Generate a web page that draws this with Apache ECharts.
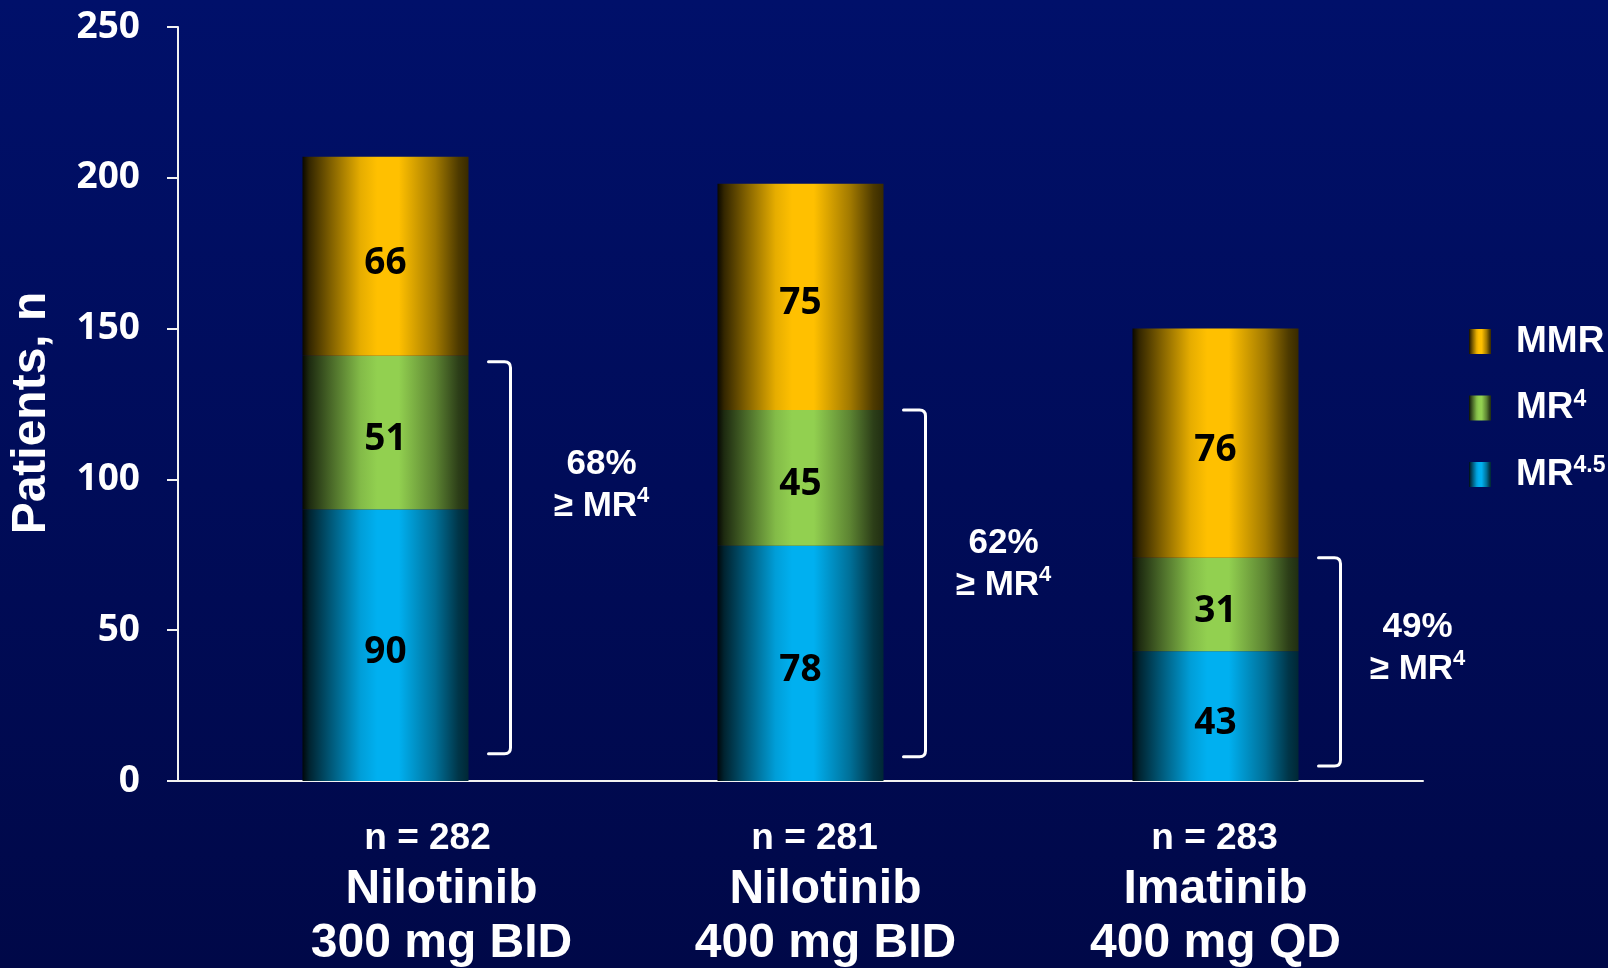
<!DOCTYPE html>
<html>
<head>
<meta charset="utf-8">
<title>Patients by molecular response</title>
<script src="https://cdn.jsdelivr.net/npm/echarts@6/dist/echarts.min.js"></script>
<style>
  html, body { margin: 0; padding: 0; background: #000c58; }
  #chart { width: 1608px; height: 968px; }
</style>
</head>
<body>
<div id="chart"></div>
<script>
// Treatment arms shown on the category axis
const arms = ['Nilotinib', 'Nilotinib', 'Imatinib'];
const doses = ['300 mg BID', '400 mg BID', '400 mg QD'];
const nPatients = [282, 281, 283];

// Patients by best response (stacked bottom to top)
const mr45 = [90, 78, 43];
const mr4 = [51, 45, 31];
const mmr = [66, 75, 76];

// Share of each arm reaching MR4 or deeper
const pctAtLeastMR4 = [68, 62, 49];

// Y axis scale
const yMin = 0;
const yMax = 250;
const yStep = 50;

// Annotation placement (bracket ends and note centre in patient units,
// horizontal nudges in pixels)
const bracketHeadDrop = [2, 0, 0];
const bracketFoot = [9, 8, 5];
const noteCentre = [98, 72, 44];
const noteShift = [91, 78, 77];
const countLabelShift = [42, 14, -1];
const armLabelShift = [56, 25, 0];

const SANS = '"Liberation Sans", Arial, sans-serif';
const NUM = '"Open Sans", "DejaVu Sans", sans-serif';

// Horizontal shading that gives each bar a rounded, cylindrical look
function cylinder(hex) {
  const r = parseInt(hex.slice(1, 3), 16);
  const g = parseInt(hex.slice(3, 5), 16);
  const b = parseInt(hex.slice(5, 7), 16);
  const stops = [
    [0, 0.04], [0.04, 0.2], [0.17, 0.5], [0.35, 0.9], [0.45, 1],
    [0.58, 1], [0.8, 0.63], [0.94, 0.3], [1, 0.22]
  ];
  return new echarts.graphic.LinearGradient(0, 0, 1, 0, stops.map(([o, f]) => ({
    offset: o,
    color: `rgb(${Math.round(r * f)},${Math.round(g * f)},${Math.round(b * f)})`
  })));
}

const categories = arms.map((a, i) => a + ' ' + doses[i]);

const valueLabel = {
  show: true,
  position: 'inside',
  offset: [0, 7],
  color: '#000',
  fontFamily: NUM,
  fontWeight: 'bold',
  fontSize: 37
};

function stackSeries(name, data, hex) {
  return {
    name: name,
    type: 'bar',
    stack: 'response',
    barWidth: '40%',
    data: data,
    itemStyle: { color: cylinder(hex) },
    label: valueLabel,
    emphasis: { disabled: true }
  };
}

// Rich-text styles for the category labels, one set per arm so each
// block can be nudged sideways
const armRich = {};
categories.forEach((c, i) => {
  armRich['n' + i] = {
    fontFamily: SANS, fontWeight: 'bold', fontSize: 37, color: '#fff', lineHeight: 48,
    padding: countLabelShift[i] >= 0 ? [0, 0, 0, countLabelShift[i] * 2] : [0, -countLabelShift[i] * 2, 0, 0]
  };
  armRich['d' + i] = {
    fontFamily: SANS, fontWeight: 'bold', fontSize: 48, color: '#fff', lineHeight: 54,
    padding: [0, 0, 0, armLabelShift[i] * 2]
  };
});

const bracketData = categories.map((c, i) => [
  i, mr45[i] + mr4[i] - bracketHeadDrop[i], bracketFoot[i], noteCentre[i]
]);

const noteRich = {
  p: { fontFamily: SANS, fontWeight: 'bold', fontSize: 35, fill: '#fff', lineHeight: 42 },
  s: { fontFamily: SANS, fontWeight: 'bold', fontSize: 22, fill: '#fff', lineHeight: 30, verticalAlign: 'top' }
};

const option = {
  backgroundColor: new echarts.graphic.LinearGradient(0, 0, 0, 1, [
    { offset: 0, color: '#00106a' },
    { offset: 1, color: '#000848' }
  ]),
  animation: false,
  grid: { left: 177, right: 185, top: 27, bottom: 185, containLabel: false },
  legend: {
    data: ['MMR', 'MR4', 'MR4.5'],
    orient: 'vertical',
    left: 1464,
    top: 318,
    icon: 'rect',
    itemWidth: 22,
    itemHeight: 25,
    itemGap: 28,
    selectedMode: false,
    formatter: function (name) {
      if (name === 'MMR') return '{b|MMR}';
      if (name === 'MR4') return '{b|MR}{s|4}';
      return '{b|MR}{s|4.5}';
    },
    textStyle: {
      color: '#fff',
      padding: [0, 0, 0, 20],
      rich: {
        b: { fontFamily: SANS, fontWeight: 'bold', fontSize: 37, color: '#fff', lineHeight: 40 },
        s: { fontFamily: SANS, fontWeight: 'bold', fontSize: 23, color: '#fff', lineHeight: 28, verticalAlign: 'top' }
      }
    }
  },
  xAxis: {
    type: 'category',
    data: categories,
    axisLine: { lineStyle: { color: '#f2f2f2', width: 2 } },
    axisTick: { show: false },
    axisLabel: {
      margin: 34,
      interval: 0,
      formatter: function (value, idx) {
        return '{n' + idx + '|n = ' + nPatients[idx] + '}\n{d' + idx + '|' + arms[idx] + '}\n{d' + idx + '|' + doses[idx] + '}';
      },
      rich: armRich
    }
  },
  yAxis: {
    type: 'value',
    min: yMin,
    max: yMax,
    interval: yStep,
    name: 'Patients, n',
    nameLocation: 'middle',
    nameRotate: 90,
    nameGap: 122,
    nameTextStyle: {
      color: '#fff', fontFamily: SANS, fontWeight: 'bold', fontSize: 48,
      padding: [0, 18, 0, 0]
    },
    axisLine: { show: true, lineStyle: { color: '#f2f2f2', width: 2 } },
    axisTick: { show: true, inside: false, length: 11, lineStyle: { color: '#f2f2f2', width: 2 } },
    splitLine: { show: false },
    axisLabel: {
      color: '#fff', fontFamily: NUM, fontWeight: 'bold', fontSize: 37, margin: 38,
      padding: [7, 0, 0, 0]
    }
  },
  series: [
    stackSeries('MR4.5', mr45, '#00B0F0'),
    stackSeries('MR4', mr4, '#92D050'),
    stackSeries('MMR', mmr, '#FFC000'),
    {
      // Brackets spanning MR4 and deeper, with the percentage beside each
      type: 'custom',
      silent: true,
      z: 5,
      data: bracketData,
      renderItem: function (params, api) {
        const i = params.dataIndex;
        const cat = api.value(0);
        const cx = api.coord([cat, 0])[0];
        const half = api.size([1, 0])[0] * 0.4 / 2;
        const yt = api.coord([cat, api.value(1)])[1];
        const yb = api.coord([cat, api.value(2)])[1];
        const yn = api.coord([cat, api.value(3)])[1];
        const xv = cx + half + 42;
        const xl = xv - 22;
        const r = 6;
        const d = `M ${xl} ${yt} L ${xv - r} ${yt} Q ${xv} ${yt} ${xv} ${yt + r} ` +
                  `L ${xv} ${yb - r} Q ${xv} ${yb} ${xv - r} ${yb} L ${xl} ${yb}`;
        return {
          type: 'group',
          children: [
            {
              type: 'path',
              shape: { pathData: d },
              style: { stroke: '#fff', lineWidth: 3, fill: null, lineCap: 'round' }
            },
            {
              type: 'text',
              x: xv + noteShift[i],
              y: yn,
              style: {
                text: '{p|' + pctAtLeastMR4[i] + '%}\n{p|≥ MR}{s|4}',
                rich: noteRich,
                fill: '#fff',
                align: 'center',
                verticalAlign: 'middle'
              }
            }
          ]
        };
      }
    }
  ]
};

const chart = echarts.init(document.getElementById('chart'), null, { renderer: 'canvas' });
chart.setOption(option);
</script>
</body>
</html>
